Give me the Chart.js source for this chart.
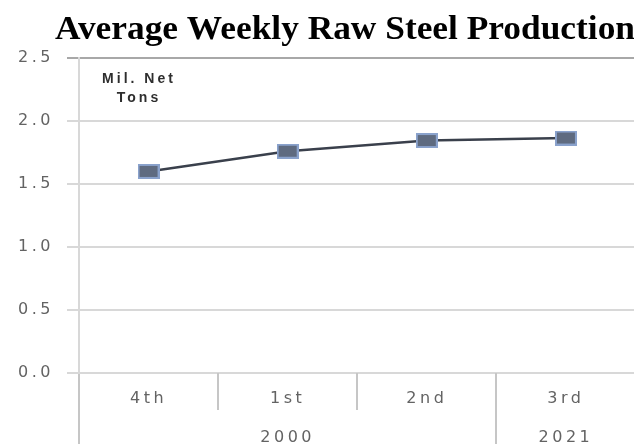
<!DOCTYPE html>
<html>
<head>
<meta charset="utf-8">
<script src="https://cdn.jsdelivr.net/npm/chart.js@4"></script>
<style>
  html, body { margin: 0; padding: 0; background: #fff; overflow: hidden; }
  #wrap { width: 646px; height: 444px; }
</style>
</head>
<body>
<div id="wrap"><canvas id="grafico" width="646" height="444"></canvas></div>
<script>
const quarters = ['4th', '1st', '2nd', '3rd'];
const years = ['', '2000', '', '2021'];
const production = [1.60, 1.76, 1.845, 1.865];
const yTicks = [0, 0.5, 1.0, 1.5, 2.0, 2.5];
const titleText = 'Average Weekly Raw Steel Production';
const unitLines = ['Mil. Net', 'Tons'];

const tickFont = { family: 'DejaVu Sans', size: 16 };
const tickColor = '#636363';
const sepColor = '#c6c6c6';

// marker: small blue-grey rectangle
const marker = document.createElement('canvas');
marker.width = 22;
marker.height = 15;
const mctx = marker.getContext('2d');
mctx.fillStyle = '#8aa2cc';
mctx.fillRect(0, 0, 22, 15);
mctx.fillStyle = '#5f6b80';
mctx.fillRect(2, 2, 18, 11);

// spacing plugin: wide letters like the original picture
const espacamento = {
    id: 'espacamento',
    beforeDraw(chart) {
        chart.ctx.letterSpacing = '3.5px';
    },
    afterDraw(chart) {
        const ctx = chart.ctx;
        ctx.save();
        // unit label
        ctx.letterSpacing = '3px';
        ctx.font = 'bold 14px "Liberation Sans"';
        ctx.fillStyle = '#2e2e2e';
        ctx.textAlign = 'center';
        ctx.textBaseline = 'middle';
        ctx.fillText(unitLines[0], 139, 79);
        ctx.fillText(unitLines[1], 139, 98);

        // title
        ctx.letterSpacing = '0px';
        ctx.font = 'bold 34px "Liberation Serif"';
        ctx.fillStyle = '#000';
        const w = ctx.measureText(titleText).width;
        const sx = 580 / w;
        ctx.translate(345, 30);
        ctx.scale(sx, 1);
        ctx.textBaseline = 'middle';
        ctx.fillText(titleText, 0, 0);
        ctx.restore();
        ctx.letterSpacing = '0px';
    }
};

new Chart(document.getElementById('grafico').getContext('2d'), {
    type: 'line',
    data: {
        labels: quarters,
        datasets: [{
            data: production,
            borderColor: '#3a404c',
            borderWidth: 2.5,
            tension: 0,
            pointStyle: marker,
            pointRadius: 8,
            pointHoverRadius: 8
        }]
    },
    options: {
        responsive: false,
        animation: false,
        events: [],
        layout: { padding: { top: 58, right: 3, left: 0, bottom: 0 } },
        plugins: {
            legend: { display: false },
            title: { display: false },
            tooltip: { enabled: false }
        },
        scales: {
            y: {
                min: 0,
                max: 2.5,
                afterBuildTicks: scale => { scale.ticks = yTicks.map(v => ({ value: v })); },
                afterFit: scale => { scale.width = 79; },
                ticks: {
                    font: tickFont,
                    color: tickColor,
                    padding: 13,
                    callback: v => v.toFixed(1)
                },
                grid: {
                    color: c => c.tick && c.tick.value === 2.5 ? '#a8a8a8' : '#d8d8d8',
                    lineWidth: 2,
                    tickLength: 12
                },
                border: { color: '#d8d8d8', width: 2 }
            },
            x: {
                type: 'category',
                labels: quarters,
                offset: true,
                weight: 0,
                afterFit: scale => { scale.height = 37; },
                ticks: { font: tickFont, color: tickColor, padding: -21, maxRotation: 0 },
                grid: {
                    offset: true,
                    drawOnChartArea: false,
                    tickLength: 37,
                    color: sepColor,
                    lineWidth: 2
                },
                border: { display: false }
            },
            x2: {
                type: 'category',
                labels: years,
                position: 'bottom',
                offset: true,
                weight: 1,
                afterFit: scale => { scale.height = 34; },
                ticks: { font: tickFont, color: tickColor, padding: -16, maxRotation: 0, autoSkip: false },
                grid: {
                    offset: true,
                    drawOnChartArea: false,
                    tickLength: 34,
                    color: c => (c.index === 0 || c.index === 3) ? sepColor : 'rgba(0,0,0,0)',
                    lineWidth: 2
                },
                border: { display: false }
            }
        }
    },
    plugins: [espacamento]
});
</script>
</body>
</html>
